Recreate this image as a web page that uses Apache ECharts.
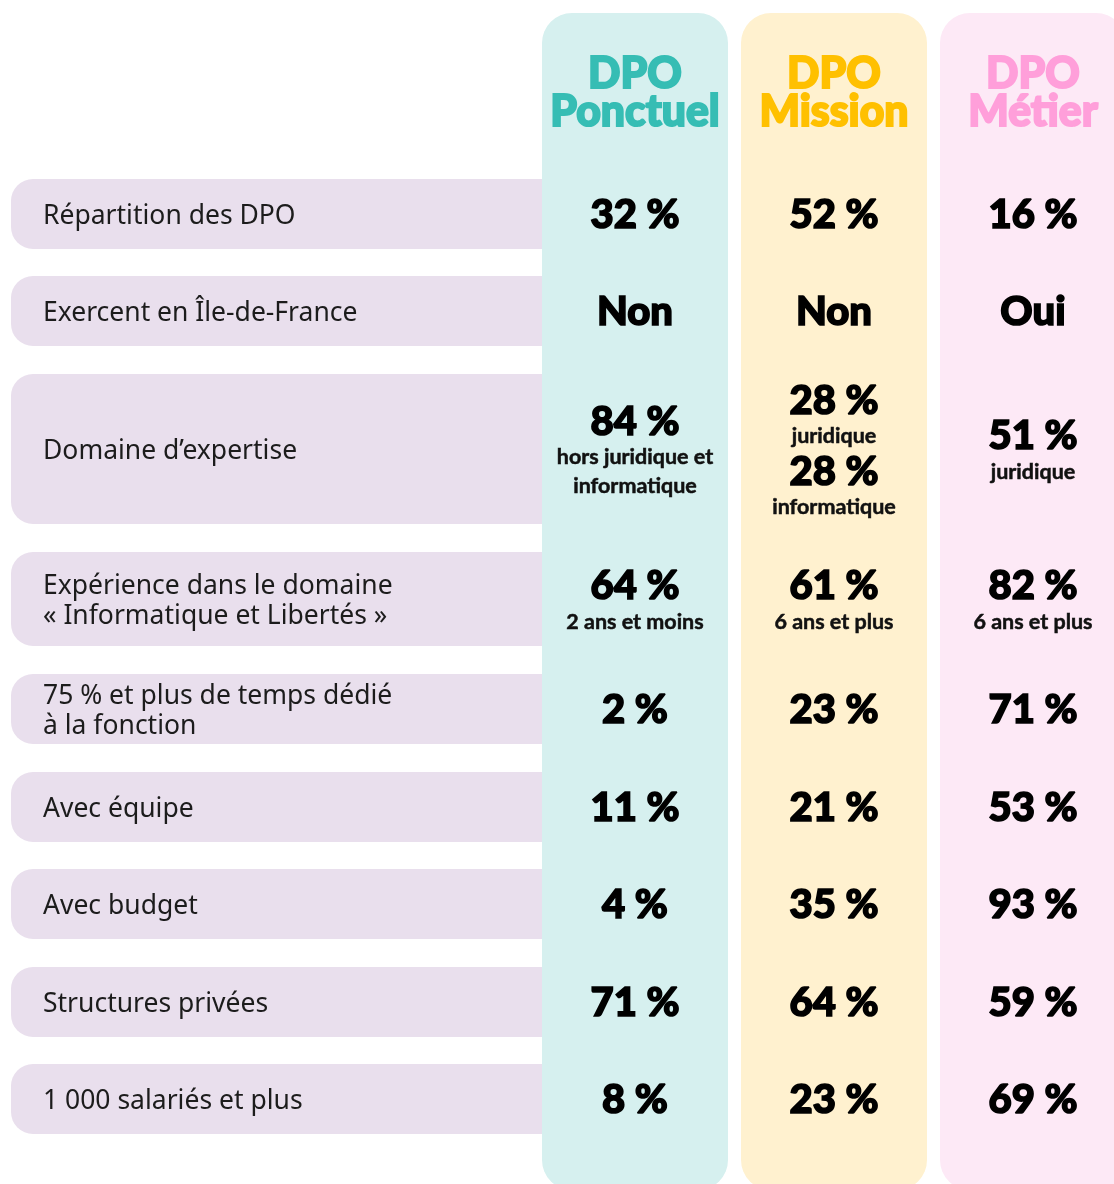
<!DOCTYPE html>
<html>
<head>
<meta charset="utf-8">
<script src="https://cdn.jsdelivr.net/npm/echarts@6/dist/echarts.min.js"></script>
<style>
  html, body { margin: 0; padding: 0; background: #fff; }
  #chart { width: 1114px; height: 1184px; }
</style>
</head>
<body>
<div id="chart"></div>
<script>
// data
const columns = ['DPO\nPonctuel', 'DPO\nMission', 'DPO\nMétier']
const rowLabels = [
  'Répartition des DPO',
  'Exercent en Île-de-France',
  'Domaine d’expertise',
  'Expérience dans le domaine\n« Informatique et Libertés »',
  '75 % et plus de temps dédié\nà la fonction',
  'Avec équipe',
  'Avec budget',
  'Structures privées',
  '1 000 salariés et plus',
]
// each cell: list of [value, note] pairs
const ponctuel = [
  [['32 %']], [['Non']], [['84 %', 'hors juridique et\ninformatique']],
  [['64 %', '2 ans et moins']], [['2 %']], [['11 %']], [['4 %']], [['71 %']], [['8 %']],
]
const mission = [
  [['52 %']], [['Non']], [['28 %', 'juridique'], ['28 %', 'informatique']],
  [['61 %', '6 ans et plus']], [['23 %']], [['21 %']], [['35 %']], [['64 %']], [['23 %']],
]
const metier = [
  [['16 %']], [['Oui']], [['51 %', 'juridique']],
  [['82 %', '6 ans et plus']], [['71 %']], [['53 %']], [['93 %']], [['59 %']], [['69 %']],
]
const cells = [ponctuel, mission, metier]

// layout (page px)
const rowTop = [179, 276, 374, 552, 674, 772, 869, 967, 1064]
const rowHeight = [70, 70, 150, 94, 70, 70, 70, 70, 70]
const colLeft = [542, 741, 940]
const colWidth = 186
const headColors = ['#36bdb4', '#ffc000', '#ff9fda']
const bgColors = ['#d6f0ef', '#fff1cf', '#fde9f6']

const chart = echarts.init(document.getElementById('chart'))

function cellText(parts) {
  const out = []
  parts.forEach(([v, note]) => {
    out.push('{v|' + v + '}')
    if (note) note.split('\n').forEach(l => out.push('{n|' + l + '}'))
  })
  return out.join('\n')
}

const colData = columns.map((c, i) => [colLeft[i], i])
const labelData = rowLabels.map((l, i) => [rowTop[i], i])
const cellData = []
cells.forEach((col, ci) => col.forEach((parts, ri) => cellData.push([ci, ri])))

chart.setOption({
  animation: false,
  grid: { left: 0, right: 0, top: 0, bottom: 0 },
  xAxis: { type: 'value', min: 0, max: 1114, show: false },
  yAxis: { type: 'value', min: 0, max: 1184, inverse: true, show: false },
  series: [
    {
      // row label boxes
      type: 'custom',
      z: 1,
      data: labelData,
      renderItem(params, api) {
        const i = api.value(1)
        const p0 = api.coord([11, rowTop[i]])
        const p1 = api.coord([560, rowTop[i] + rowHeight[i]])
        const cy = (p0[1] + p1[1]) / 2
        return {
          type: 'group',
          children: [
            {
              type: 'rect',
              shape: { x: p0[0], y: p0[1], width: p1[0] - p0[0], height: p1[1] - p0[1], r: [22, 0, 0, 22] },
              style: { fill: '#e9dfed' },
            },
            {
              type: 'text',
              x: p0[0] + 32, y: cy + 2,
              style: {
                text: rowLabels[i],
                font: '26.5px "Noto Sans"',
                fill: '#1c1c1c',
                textAlign: 'left',
                textVerticalAlign: 'middle',
                lineHeight: 30,
              },
            },
          ],
        }
      },
    },
    {
      // column backgrounds + headers
      type: 'custom',
      z: 2,
      data: colData,
      renderItem(params, api) {
        const i = api.value(1)
        const p0 = api.coord([colLeft[i], 13])
        const p1 = api.coord([colLeft[i] + colWidth, 1190])
        const cx = (p0[0] + p1[0]) / 2
        return {
          type: 'group',
          children: [
            {
              type: 'rect',
              shape: { x: p0[0], y: p0[1], width: p1[0] - p0[0], height: p1[1] - p0[1], r: 30 },
              style: { fill: bgColors[i] },
            },
            {
              type: 'text',
              x: cx, y: api.coord([0, 93])[1],
              scaleX: 0.97,
              style: {
                x: 0, y: 0,
                text: columns[i],
                font: '900 44px Lato',
                fill: headColors[i],
                stroke: headColors[i],
                lineWidth: 2,
                textAlign: 'center',
                textVerticalAlign: 'middle',
                lineHeight: 38,
              },
            },
          ],
        }
      },
    },
    {
      // cell values
      type: 'custom',
      z: 3,
      data: cellData,
      renderItem(params, api) {
        const ci = api.value(0)
        const ri = api.value(1)
        const parts = cells[ci][ri]
        const hasNote = parts.some(p => p[1])
        const cx = api.coord([colLeft[ci] + colWidth / 2, 0])[0]
        const cy = api.coord([0, rowTop[ri] + rowHeight[ri] / 2 + (hasNote ? 2 : 1)])[1]
        return {
          type: 'text',
          x: cx, y: cy,
          style: {
            x: 0, y: 0,
            text: cellText(parts),
            textAlign: 'center',
            textVerticalAlign: 'middle',
            rich: {
              v: {
                font: '900 40px Lato', fill: '#000', lineHeight: 42, align: 'center',
                stroke: '#000', lineWidth: 1.6,
              },
              n: {
                font: '700 21.5px Lato', fill: '#111', lineHeight: 29, align: 'center',
                stroke: '#111', lineWidth: 0.5,
              },
            },
          },
        }
      },
    },
  ],
})
</script>
</body>
</html>
